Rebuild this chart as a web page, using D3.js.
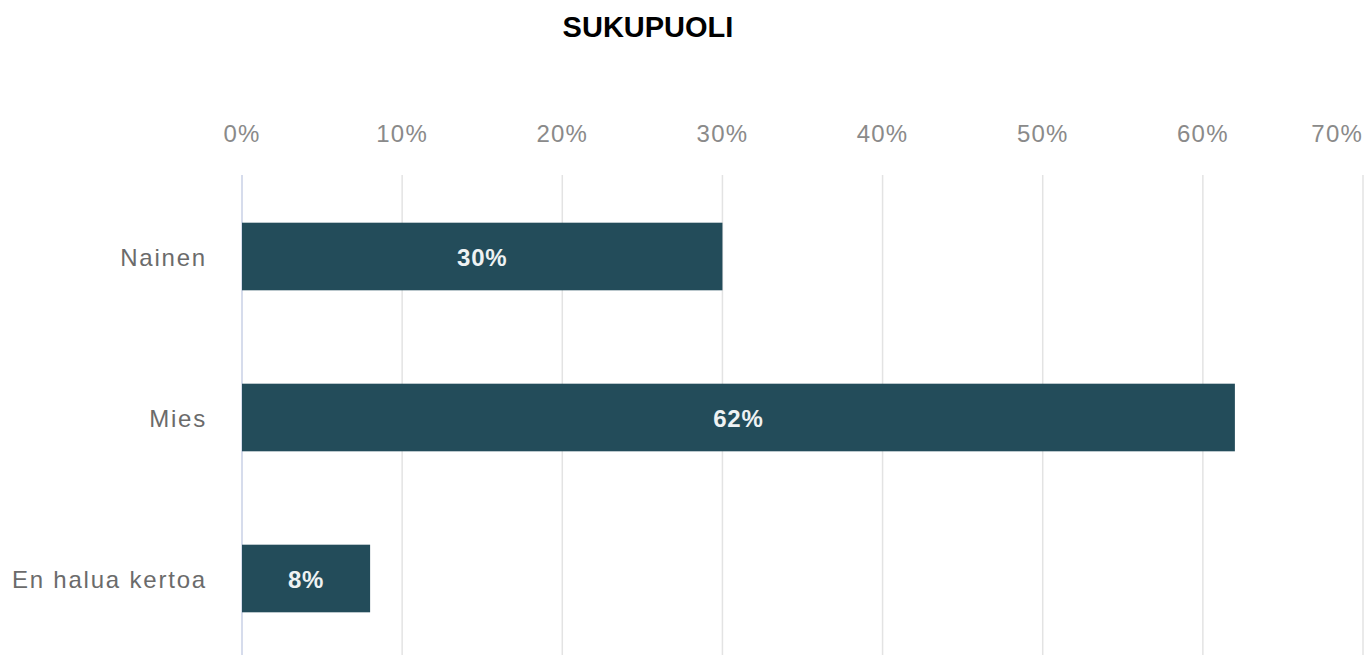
<!DOCTYPE html>
<html>
<head>
<meta charset="utf-8">
<script src="https://cdn.jsdelivr.net/npm/d3@7"></script>
<style>
  body { margin: 0; background: #fff; }
  text { font-family: Arial, "Liberation Sans", sans-serif; }
</style>
</head>
<body>
<svg width="1365" height="655"></svg>
<script>
const categories = ['Nainen', 'Mies', 'En halua kertoa'];
const values = [30, 62, 8];
const tickValues = [0, 10, 20, 30, 40, 50, 60, 70];
const title = 'SUKUPUOLI';

const svg = d3.select('svg');
const barColor = '#234c5a';
const gridColor = '#e3e3e3';

const x = d3.scaleLinear().domain([0, 70]).range([242, 1363]);
const y = d3.scaleBand().domain(categories).range([176, 659])
            .paddingInner(0.58).paddingOuter(0.29);

svg.append('text')
   .attr('x', 648).attr('y', 37)
   .attr('text-anchor', 'middle')
   .attr('font-size', 29).attr('font-weight', 'bold')
   .attr('fill', '#000')
   .text(title);

// grid + top ticks
const grid = svg.append('g');
grid.selectAll('line').data(tickValues).enter()
    .append('line')
    .attr('x1', d => x(d)).attr('x2', d => x(d))
    .attr('y1', 175).attr('y2', 655)
    .attr('stroke', d => d === 0 ? '#c9d0e6' : gridColor)
    .attr('stroke-width', 1.5);

svg.append('g').selectAll('text').data(tickValues).enter()
   .append('text')
   .attr('x', d => x(d))
   .attr('y', 142)
   .attr('text-anchor', (d, i) => i === tickValues.length - 1 ? 'end' : 'middle')
   .attr('font-size', 24).attr('letter-spacing', 1.2)
   .attr('fill', '#8a8a8a')
   .text(d => d + '%');

// bars
const bars = svg.append('g');
bars.selectAll('rect').data(values).enter()
    .append('rect')
    .attr('x', x(0))
    .attr('y', (d, i) => y(categories[i]))
    .attr('width', d => x(d) - x(0))
    .attr('height', y.bandwidth())
    .attr('fill', barColor);

bars.selectAll('text').data(values).enter()
    .append('text')
    .attr('x', d => (x(d) + x(0)) / 2)
    .attr('y', (d, i) => y(categories[i]) + y.bandwidth() / 2 + 9)
    .attr('text-anchor', 'middle')
    .attr('font-size', 24).attr('font-weight', 'bold').attr('letter-spacing', 0.8)
    .attr('fill', '#eef2f3')
    .text(d => d + '%');

// category labels
svg.append('g').selectAll('text').data(categories).enter()
   .append('text')
   .attr('x', 207)
   .attr('y', d => y(d) + y.bandwidth() / 2 + 9)
   .attr('text-anchor', 'end')
   .attr('font-size', 24).attr('letter-spacing', 1.8)
   .attr('fill', '#6b6b6b')
   .text(d => d);
</script>
</body>
</html>
